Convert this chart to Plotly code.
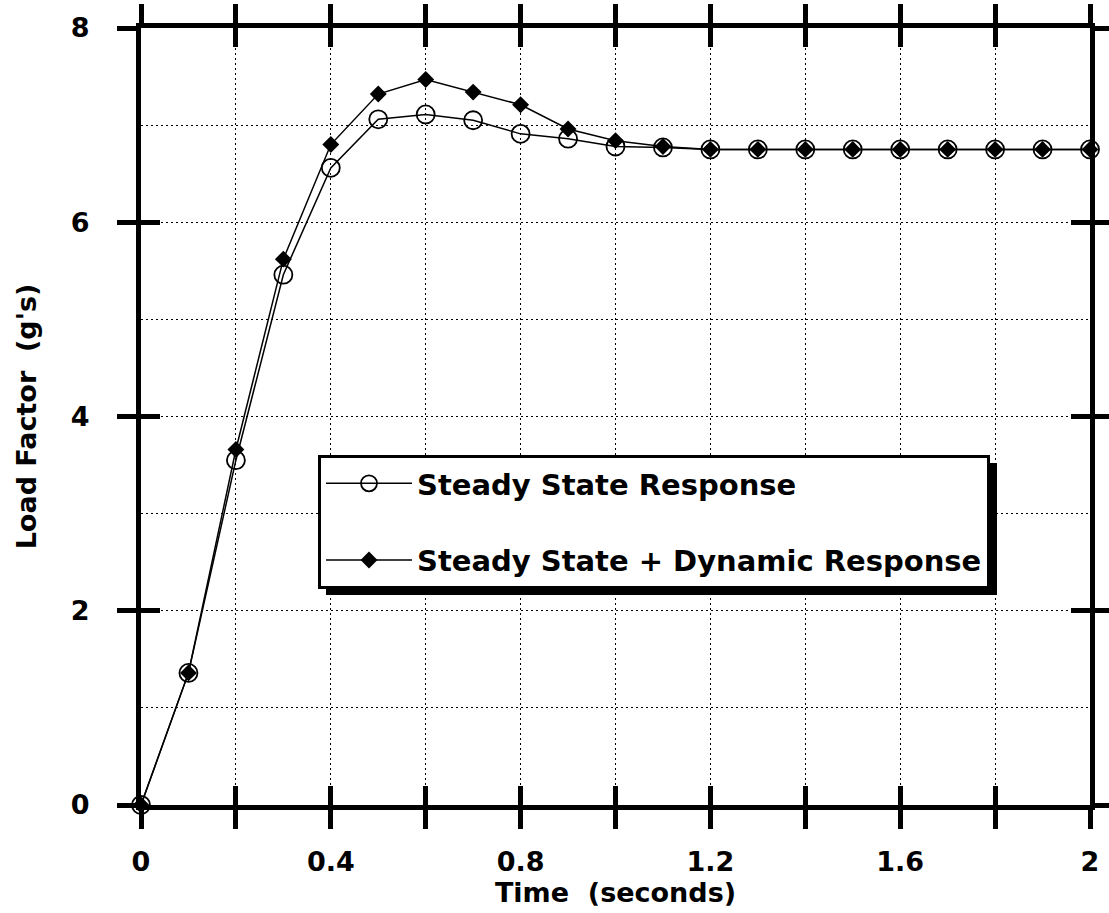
import plotly.graph_objects as go

# ---- data ----
time_s = [0.0, 0.1, 0.2, 0.3, 0.4, 0.5, 0.6, 0.7, 0.8, 0.9, 1.0,
          1.1, 1.2, 1.3, 1.4, 1.5, 1.6, 1.7, 1.8, 1.9, 2.0]
steady = [0.0, 1.36, 3.55, 5.46, 6.56, 7.06, 7.11, 7.05, 6.91, 6.86, 6.78,
          6.77, 6.75, 6.75, 6.75, 6.75, 6.75, 6.75, 6.75, 6.75, 6.75]
dynamic = [0.0, 1.36, 3.66, 5.62, 6.80, 7.32, 7.47, 7.34, 7.21, 6.96, 6.84,
           6.78, 6.75, 6.75, 6.75, 6.75, 6.75, 6.75, 6.75, 6.75, 6.75]

x_tickvals = [0.0, 0.2, 0.4, 0.6, 0.8, 1.0, 1.2, 1.4, 1.6, 1.8, 2.0]
x_ticktext = ["0", "", "0.4", "", "0.8", "", "1.2", "", "1.6", "", "2"]
y_tickvals = [0, 2, 4, 6, 8]
y_ticktext = ["0", "2", "4", "6", "8"]

series_names = ["Steady State Response", "Steady State + Dynamic Response"]

# ---- layout geometry (pixels) ----
W, H = 1109, 913
L, R, T, B = 141, 1090, 28, 805


def px_x(p):
    return (p - L) / (R - L)


def px_y(p):
    return (B - p) / (B - T)


FONT = "DejaVu Sans"

fig = go.Figure()

fig.add_trace(go.Scatter(
    x=time_s, y=steady, name=series_names[0], mode="lines+markers",
    line=dict(color="black", width=1.5),
    marker=dict(symbol="circle-open", size=18, color="black",
                line=dict(width=1.8, color="black")),
    cliponaxis=False, legendgroup="a",
))
fig.add_trace(go.Scatter(
    x=time_s, y=dynamic, name=series_names[1], mode="lines+markers",
    line=dict(color="black", width=1.5),
    marker=dict(symbol="diamond", size=13, color="black"),
    cliponaxis=False, legendgroup="b",
))
# empty helper trace so the overlay axes (inner tick halves) are drawn
fig.add_trace(go.Scatter(x=[None], y=[None], xaxis="x2", yaxis="y2",
                         showlegend=False, hoverinfo="skip"))

grid = dict(showgrid=True, gridcolor="black", gridwidth=1.3, griddash="2px,3px")

# legend box (pixels) used for the drop shadow
LEG_X0, LEG_Y0, LEG_X1, LEG_Y1 = 318, 455, 989, 587
SH = 8

fig.update_layout(
    width=W, height=H,
    margin=dict(l=L, r=W - R, t=T, b=H - B, pad=0, autoexpand=False),
    paper_bgcolor="white", plot_bgcolor="white",
    font=dict(family=FONT, color="black"),
    showlegend=True,
    xaxis=dict(
        range=[0, 2], tickmode="array", tickvals=x_tickvals, ticktext=x_ticktext,
        ticks="outside", ticklen=19, tickwidth=5, tickcolor="black",
        showline=True, linewidth=5, linecolor="black", mirror="ticks",
        tickfont=dict(family=FONT, size=27, color="black", weight="bold"),
        ticklabelstandoff=10, zeroline=False, automargin=False,
        title=dict(text="Time  (seconds)", standoff=0,
                   font=dict(family=FONT, size=27, color="black", weight="bold")),
        **grid,
    ),
    yaxis=dict(
        range=[0, 8], tickmode="array", tickvals=y_tickvals, ticktext=y_ticktext,
        ticks="outside", ticklen=19, tickwidth=5, tickcolor="black",
        showline=True, linewidth=5, linecolor="black", mirror="ticks",
        tickfont=dict(family=FONT, size=27, color="black", weight="bold"),
        ticklabelstandoff=22, zeroline=False, automargin=False,
        minor=dict(dtick=1, tick0=0, showgrid=True, gridcolor="black",
                   gridwidth=1.3, griddash="2px,3px", ticks=""),
        title=dict(text="Load Factor  (g's)", standoff=28,
                   font=dict(family=FONT, size=27, color="black", weight="bold")),
        **grid,
    ),
    xaxis2=dict(
        overlaying="x", matches="x", anchor="y", side="bottom",
        range=[0, 2], tickmode="array", tickvals=x_tickvals,
        ticks="inside", ticklen=19, tickwidth=5, tickcolor="black",
        mirror="ticks", showline=False, showgrid=False, zeroline=False,
        showticklabels=False, automargin=False,
    ),
    yaxis2=dict(
        overlaying="y", matches="y", anchor="x", side="left",
        range=[0, 8], tickmode="array", tickvals=y_tickvals,
        ticks="inside", ticklen=19, tickwidth=5, tickcolor="black",
        mirror="ticks", showline=False, showgrid=False, zeroline=False,
        showticklabels=False, automargin=False,
    ),
    legend=dict(
        x=px_x(LEG_X0), y=px_y(LEG_Y0), xanchor="left", yanchor="top",
        bgcolor="white", bordercolor="black", borderwidth=3,
        font=dict(family=FONT, size=29, color="black", weight="bold"),
        traceorder="grouped", tracegroupgap=36, itemwidth=86,
    ),
    shapes=[dict(
        type="rect", xref="paper", yref="paper", layer="above",
        x0=px_x(LEG_X0 + SH), x1=px_x(LEG_X1 + SH),
        y0=px_y(LEG_Y1 + SH), y1=px_y(LEG_Y0 + SH),
        fillcolor="black", line=dict(width=0),
    )],
)

fig.write_html(
    "out.html",
    config={"displayModeBar": False},
    post_script="document.body.style.margin='0';document.body.style.overflow='hidden';",
)
